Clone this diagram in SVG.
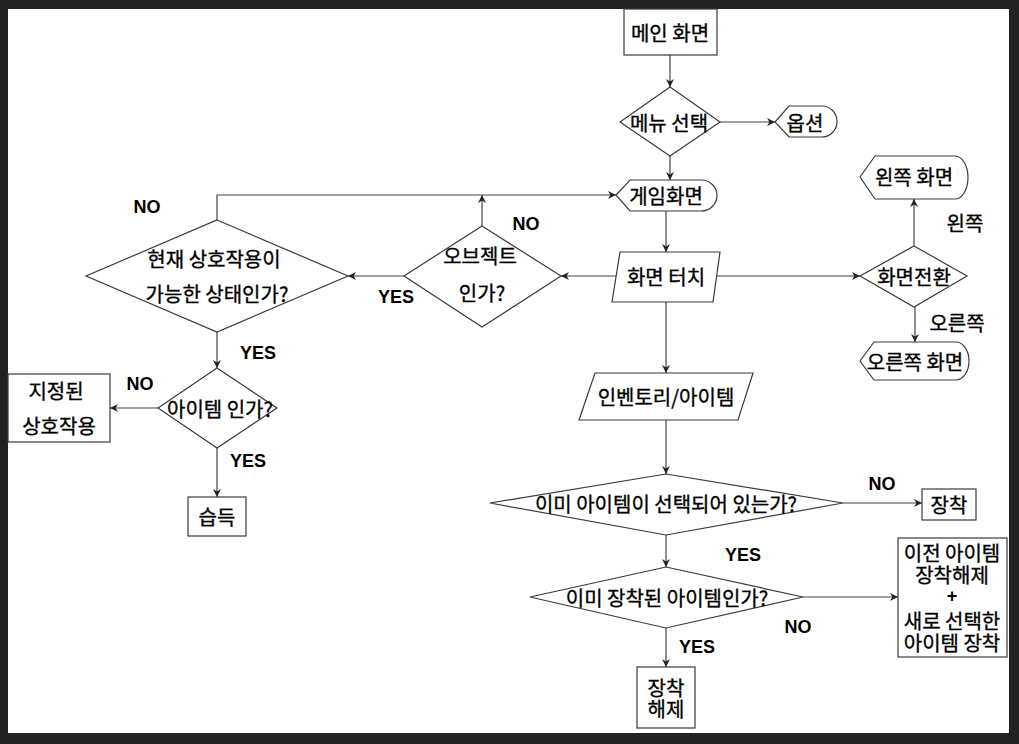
<svg xmlns="http://www.w3.org/2000/svg" width="1019" height="744" viewBox="0 0 1019 744">
<defs>
<style>
.frame{fill:#222222}
.bg{fill:#ffffff}
.node{fill:#ffffff;stroke:#3a3a3a;stroke-width:1.2}
.t{font-family:"Noto Sans CJK KR","Noto Sans",sans-serif;font-size:20px;fill:#000;stroke:#000;stroke-width:0.35;text-anchor:middle;dominant-baseline:central}
.lb{font-family:"Liberation Sans",Arial,sans-serif;font-size:18px;font-weight:bold;fill:#000;text-anchor:middle;dominant-baseline:central}
.c{fill:none;stroke:#444;stroke-width:1.2}
</style>
<marker id="ah" viewBox="0 0 10 10" refX="10" refY="5" markerWidth="8" markerHeight="8" markerUnits="userSpaceOnUse" orient="auto">
<path d="M0,0 L10,5 L0,10 L3,5 Z" fill="#222"/>
</marker>
</defs>
<rect class="frame" x="0" y="0" width="1019" height="744"/>
<rect class="bg" x="8" y="9" width="1001" height="724"/>

<g id="connectors">
<path class="c" d="M670,55 L670,87" marker-end="url(#ah)"/>
<path class="c" d="M720,122 L775,122" marker-end="url(#ah)"/>
<path class="c" d="M670,156 L670,180" marker-end="url(#ah)"/>
<path class="c" d="M666,211 L666,252" marker-end="url(#ah)"/>
<path class="c" d="M716,276 L860,276" marker-end="url(#ah)"/>
<path class="c" d="M616,276 L561,276" marker-end="url(#ah)"/>
<path class="c" d="M404,276 L348,276" marker-end="url(#ah)"/>
<path class="c" d="M482,226 L482,195" marker-end="url(#ah)"/>
<path class="c" d="M217,220 L217,195 L616,195" marker-end="url(#ah)"/>
<path class="c" d="M217,332 L217,368" marker-end="url(#ah)"/>
<path class="c" d="M158,408 L110,408" marker-end="url(#ah)"/>
<path class="c" d="M217,448 L217,497" marker-end="url(#ah)"/>
<path class="c" d="M666,302 L666,373" marker-end="url(#ah)"/>
<path class="c" d="M666,420 L666,474" marker-end="url(#ah)"/>
<path class="c" d="M843,503 L922,503" marker-end="url(#ah)"/>
<path class="c" d="M666,535 L666,567" marker-end="url(#ah)"/>
<path class="c" d="M803,597 L898,597" marker-end="url(#ah)"/>
<path class="c" d="M666,628 L666,667" marker-end="url(#ah)"/>
<path class="c" d="M914,246 L914,199" marker-end="url(#ah)"/>
<path class="c" d="M915,307 L915,342" marker-end="url(#ah)"/>
</g>

<g id="labels">
<text class="lb" x="147" y="207">NO</text>
<text class="lb" x="526" y="224">NO</text>
<text class="lb" x="396" y="297">YES</text>
<text class="lb" x="258" y="353">YES</text>
<text class="lb" x="140" y="384">NO</text>
<text class="lb" x="248" y="461">YES</text>
<text class="lb" x="882" y="484">NO</text>
<text class="lb" x="743" y="555">YES</text>
<text class="lb" x="798" y="627">NO</text>
<text class="lb" x="697" y="647">YES</text>
<text class="t" x="965" y="222">왼쪽</text>
<text class="t" x="957" y="322">오른쪽</text>
</g>

<g id="main">
<rect class="node" x="624" y="9" width="93" height="46"/>
<text class="t" x="670" y="32">메인 화면</text>
</g>
<g id="menu">
<polygon class="node" points="670,87 720,122 670,156 620,122"/>
<text class="t" x="669" y="122">메뉴 선택</text>
</g>
<g id="option">
<path class="node" d="M775,122 L789,106 L822,106 A15 15.5 0 0 1 822,137 L789,137 Z"/>
<text class="t" x="805" y="122">옵션</text>
</g>
<g id="game">
<path class="node" d="M616,195 L630,180 L701,180 A16 15.5 0 0 1 701,211 L630,211 Z"/>
<text class="t" x="666" y="195">게임화면</text>
</g>
<g id="touch">
<polygon class="node" points="620,252 720,252 713,302 612,302"/>
<text class="t" x="666" y="276">화면 터치</text>
</g>
<g id="switch">
<polygon class="node" points="914,246 967,276 914,307 860,276"/>
<text class="t" x="914" y="276">화면전환</text>
</g>
<g id="left">
<path class="node" d="M860,177 L875,156 L955,156 A13 21.5 0 0 1 955,199 L875,199 Z"/>
<text class="t" x="914" y="176">왼쪽 화면</text>
</g>
<g id="right">
<path class="node" d="M860,361 L874,342 L956,342 A13 19 0 0 1 956,380 L874,380 Z"/>
<text class="t" x="915" y="361">오른쪽 화면</text>
</g>
<g id="object">
<polygon class="node" points="482,226 561,276 482,327 404,276"/>
<text class="t" x="480" y="255">오브젝트</text>
<text class="t" x="482" y="292">인가?</text>
</g>
<g id="interact">
<polygon class="node" points="217,220 348,276 217,332 86,276"/>
<text class="t" x="214" y="258">현재 상호작용이</text>
<text class="t" x="217" y="293">가능한 상태인가?</text>
</g>
<g id="isitem">
<polygon class="node" points="217,368 277,408 217,448 158,408"/>
<text class="t" x="220" y="408">아이템 인가?</text>
</g>
<g id="designated">
<rect class="node" x="8" y="374" width="102" height="68"/>
<text class="t" x="56" y="390">지정된</text>
<text class="t" x="59" y="425">상호작용</text>
</g>
<g id="acquire">
<rect class="node" x="188" y="497" width="58" height="39"/>
<text class="t" x="217" y="516">습득</text>
</g>
<g id="inventory">
<polygon class="node" points="595,373 753,373 738,420 579,420"/>
<text class="t" x="666" y="396">인벤토리/아이템</text>
</g>
<g id="selected">
<polygon class="node" points="666,474 843,503 666,535 490,503"/>
<text class="t" x="666" y="503">이미 아이템이 선택되어 있는가?</text>
</g>
<g id="equip">
<rect class="node" x="922" y="489" width="54" height="31"/>
<text class="t" x="949" y="504">장착</text>
</g>
<g id="equipped">
<polygon class="node" points="666,567 803,597 666,628 530,597"/>
<text class="t" x="667" y="597">이미 장착된 아이템인가?</text>
</g>
<g id="swap">
<rect class="node" x="898" y="538" width="109" height="119"/>
<text class="t" x="952" y="552">이전 아이템</text>
<text class="t" x="952" y="574">장착해제</text>
<text class="lb" x="952" y="596">+</text>
<text class="t" x="952" y="620">새로 선택한</text>
<text class="t" x="952" y="642">아이템 장착</text>
</g>
<g id="unequip">
<rect class="node" x="637" y="667" width="58" height="61"/>
<text class="t" x="666" y="687">장착</text>
<text class="t" x="666" y="708">해제</text>
</g>
</svg>
